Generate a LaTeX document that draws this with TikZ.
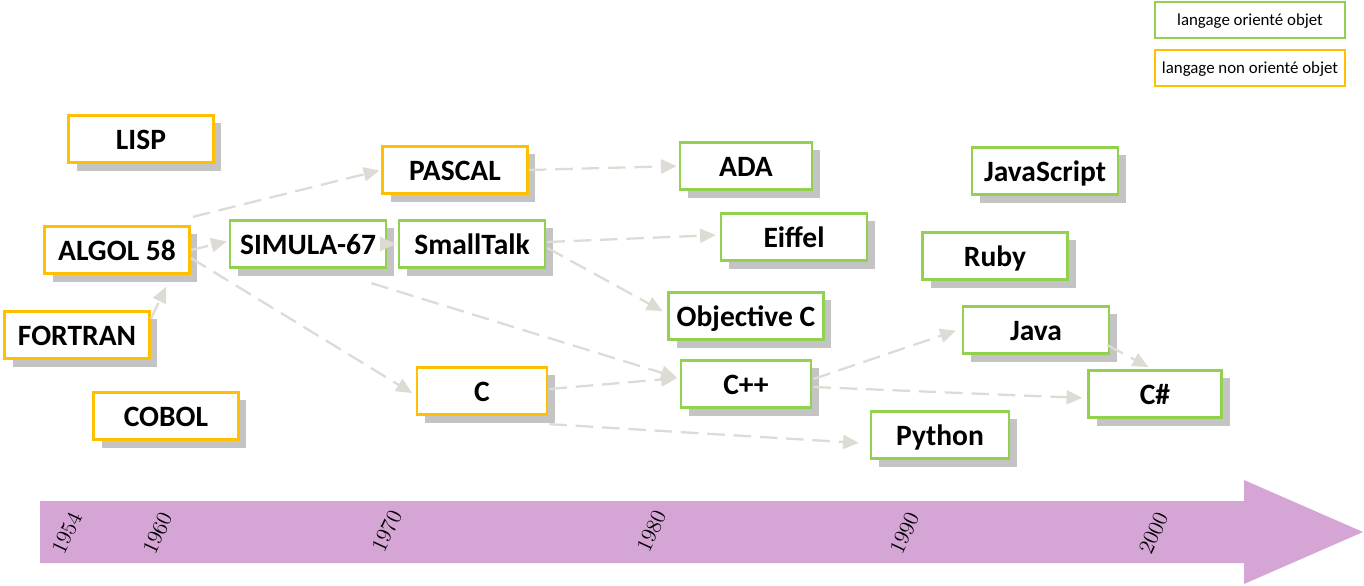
\documentclass[tikz,border=0pt]{standalone}
\usepackage{fontspec}
\newfontfamily\boxfont{Carlito}
\usetikzlibrary{arrows.meta,shadows}

\definecolor{objgreen}{RGB}{146,208,80}
\definecolor{nonobj}{RGB}{255,192,0}
\definecolor{shade}{RGB}{196,196,196}
\definecolor{link}{RGB}{222,219,212}
\definecolor{frise}{RGB}{213,166,213}

\begin{document}
\begin{tikzpicture}[x=0.02cm, y=-0.02cm,
    lang/.style = {draw, line width=1.6pt, fill=white, minimum height=0.95cm,
        text height=1.15em, text depth=0em,
        font=\boxfont\bfseries\fontsize{16.8}{19}\selectfont,
        drop shadow={shadow xshift=0.16cm, shadow yshift=-0.16cm, fill=shade, draw=none, opacity=1}},
    oo/.style = {lang, draw=objgreen},
    nonoo/.style = {lang, draw=nonobj},
    legend/.style = {draw, line width=1.3pt, minimum height=0.73cm, minimum width=3.8cm,
        text height=0.75em, text depth=0.15em,
        font=\boxfont\fontsize{9.6}{11}\selectfont},
    filiation/.style = {draw=link, line width=1.3pt, dash pattern=on 10pt off 5pt,
        shorten >=1pt, -{Triangle[length=9pt,width=8pt]}},
    year/.style = {rotate=65, font=\fontsize{12.5}{14}\selectfont}]
            \useasboundingbox (0,0) rectangle (1364,585);
            % frise chronologique
            \fill[frise] (40,501) -- (1244,501) -- (1244,480) -- (1363,532) -- (1244,584) -- (1244,563) -- (40,563) -- cycle;
            \node[year] (y1954) at (67,533) {1954};
            \node[year] (y1960) at (158,533) {1960};
            \node[year] (y1970) at (387,531) {1970};
            \node[year] (y1980) at (652,531) {1980};
            \node[year] (y1990) at (905,533) {1990};
            \node[year] (y2000) at (1154,533) {2000};

            \node[legend, draw=objgreen] (leg1) at (1250,20) {langage orienté objet};
            \node[legend, draw=nonobj] (leg2) at (1250,68) {langage non orienté objet};

            \node[nonoo, minimum width=2.9cm] (lisp) at (141,139) {LISP};
            \node[nonoo, minimum width=2.9cm] (pascal) at (455,170) {PASCAL};
            \node[nonoo, minimum width=2.9cm] (algol) at (117,250) {ALGOL 58};
            \node[nonoo, minimum width=2.9cm] (fortran) at (77,335) {FORTRAN};
            \node[nonoo, minimum width=2.9cm] (cobol) at (166,416) {COBOL};
            \node[nonoo, minimum width=2.6cm] (c) at (482,391) {C};

            \node[oo, minimum width=3.12cm] (simula) at (308,244) {SIMULA-67};
            \node[oo, minimum width=2.92cm] (smalltalk) at (472,244) {SmallTalk};
            \node[oo, minimum width=2.64cm] (ada) at (746,166) {ADA};
            \node[oo, minimum width=2.92cm] (eiffel) at (794,237) {Eiffel};
            \node[oo, minimum width=3.1cm] (objc) at (746,316) {Objective C};
            \node[oo, minimum width=2.6cm] (cpp) at (746,384) {C++};
            \node[oo, minimum width=2.92cm] (javascript) at (1045,171) {JavaScript};
            \node[oo, minimum width=2.9cm] (ruby) at (995,256) {Ruby};
            \node[oo, minimum width=2.92cm] (java) at (1036,330) {Java};
            \node[oo, minimum width=2.66cm] (csharp) at (1155,394) {C\#};
            \node[oo, minimum width=2.76cm] (python) at (940,435) {Python};

            % filiations
            \draw[filiation] ([shift={(2,-8)}]algol.north east) -- (pascal.west);
            \draw[filiation] (algol.east) -- ([shift={(0,-3)}]simula.west);
            \draw[filiation] (simula.east) -- (smalltalk.west);
            \draw[filiation] ([shift={(0,9)}]fortran.north east) -- ([shift={(-24,10)}]algol.south east);
            \draw[filiation] ([shift={(0,8)}]algol.east) -- ([shift={(-2,3)}]c.west);
            \draw[filiation] ([shift={(-16,14)}]simula.south east) -- ([shift={(-1,-6)}]cpp.west);
            \draw[filiation] (pascal.east) -- (ada.west);
            \draw[filiation] ([shift={(1,-2)}]smalltalk.east) -- ([shift={(-2,-2)}]eiffel.west);
            \draw[filiation] ([shift={(1,4)}]smalltalk.east) -- ([shift={(-3,-4)}]objc.west);
            \draw[filiation] ([shift={(1,-2)}]c.east) -- ([shift={(-1,-6)}]cpp.west);
            \draw[filiation] ([shift={(1,8)}]c.south east) -- ([shift={(-9,8)}]python.west);
            \draw[filiation] ([shift={(1,-5)}]cpp.east) -- ([shift={(-4,0)}]java.west);
            \draw[filiation] ([shift={(1,3)}]cpp.east) -- ([shift={(-3,4)}]csharp.west);
            \draw[filiation] ([shift={(-3,-10)}]java.south east) -- ([shift={(-5,-1)}]csharp.north);
            \end{tikzpicture}
\end{document}
